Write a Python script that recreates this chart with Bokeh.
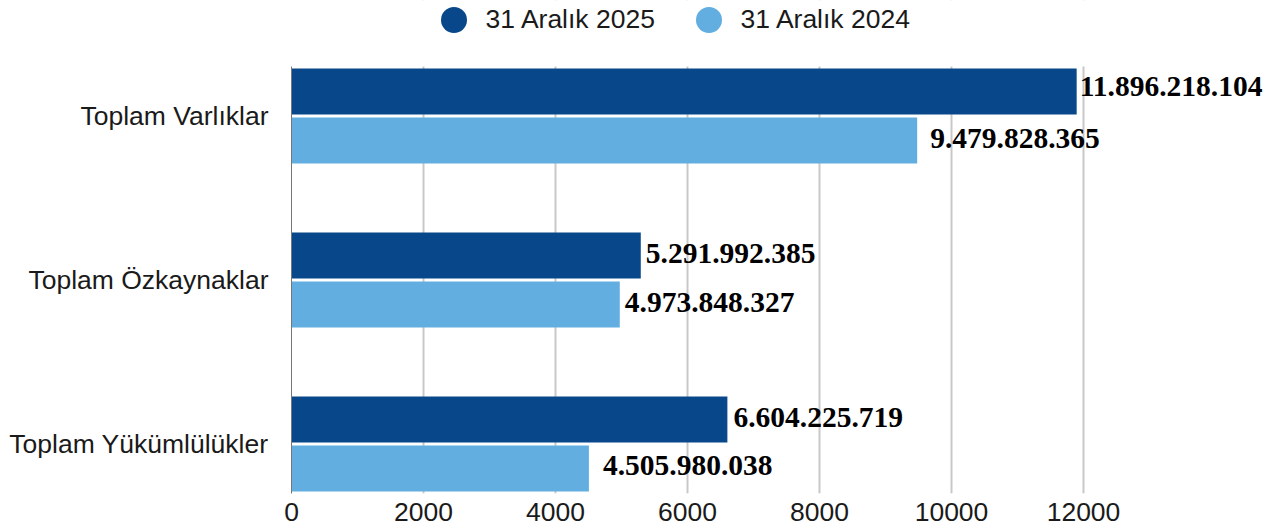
from bokeh.plotting import figure
from bokeh.models import (ColumnDataSource, Range1d, FixedTicker, Legend,
                          LegendItem, BoxAnnotation)
from bokeh.embed import file_html
from bokeh.resources import INLINE
from bokeh.core.properties import value

# ---------------- data ----------------
categories = ["Toplam Varlıklar", "Toplam Özkaynaklar", "Toplam Yükümlülükler"]
series_names = ["31 Aralık 2025", "31 Aralık 2024"]
values_2025 = [11896218104, 5291992385, 6604225719]
values_2024 = [9479828365, 4973848327, 4505980038]
x_ticks = [0, 2000, 4000, 6000, 8000, 10000, 12000]
scale = 1e6  # axis in millions

# ---------------- style ----------------
colors = ["#08488a", "#62aee1"]
bar_shift = [0.1494, -0.1494]
bar_height = 0.2805
label_dx = [[3, 5, 6], [13, 5, 14]]
label_dy = [[-5, -2, -2], [-2, -2, -3]]
text_col = "#1a1a1a"
sans = "Liberation Sans"
sans_size = "26.5px"

n = len(categories)
pos = [n - i - 0.5 for i in range(n)]
y_lo, y_top_plot, y_hi = 0.198, 2.802, 3.2043

p = figure(width=1276, height=532, output_backend="svg", toolbar_location=None,
           x_range=Range1d(0, 14924), y_range=Range1d(y_lo, y_hi),
           min_border_left=291, min_border_right=0, min_border_top=0,
           min_border_bottom=39)
p.outline_line_color = None
p.background_fill_color = "white"
p.border_fill_color = "white"

# grid
p.ygrid.visible = False
p.xgrid.ticker = FixedTicker(ticks=x_ticks[1:])
p.xgrid.grid_line_color = "#c8c8c8"
p.xgrid.grid_line_width = 2

def fmt(v):
    return f"{v:,}".replace(",", ".")

sources = []
for s, vals in enumerate([values_2025, values_2024]):
    src = ColumnDataSource(dict(
        y=[pp + bar_shift[s] for pp in pos],
        right=[v / scale for v in vals],
        mid=[v / scale / 2 for v in vals],
        label=[fmt(v) for v in vals],
        dx=label_dx[s],
        dy=label_dy[s],
    ))
    sources.append(src)
    p.hbar(y="y", left=0, right="right", height=bar_height,
           fill_color=colors[s], line_color=None, source=src)
    p.text(x="right", y="y", text="label", x_offset="dx", y_offset="dy",
           text_font=value("Liberation Serif"), text_font_style="bold",
           text_font_size="29.5px", text_baseline="middle", text_align="left",
           text_color="black", source=src)

# cover grid above the plot region (legend area)
p.add_layout(BoxAnnotation(bottom=y_top_plot, fill_color="white", fill_alpha=1,
                           line_color=None))

# x axis
xa = p.xaxis[0]
xa.ticker = FixedTicker(ticks=x_ticks)
xa.axis_line_color = None
xa.major_tick_line_color = None
xa.minor_tick_line_color = None
xa.major_tick_out = 0
xa.minor_tick_out = 0
xa.major_label_standoff = 9
xa.major_label_text_font = sans
xa.major_label_text_font_size = sans_size
xa.major_label_text_color = text_col

# y axis
ya = p.yaxis[0]
ya.ticker = FixedTicker(ticks=pos)
overrides = {}
for pp, c in zip(pos, categories):
    overrides[pp] = c
    overrides[str(pp)] = c
ya.major_label_overrides = overrides
ya.bounds = (y_lo, y_top_plot)
ya.axis_line_color = "#777777"
ya.axis_line_width = 1
ya.major_tick_line_color = None
ya.minor_tick_line_color = None
ya.major_tick_out = 0
ya.minor_tick_out = 0
ya.major_label_standoff = 23
ya.major_label_text_font = sans
ya.major_label_text_font_size = sans_size
ya.major_label_text_color = text_col

# legend: circle markers hidden beneath their own (same-coloured) bars
items = []
for name, c, src in zip(series_names, colors, sources):
    r = p.scatter(x="mid", y="y", marker="circle", size=26, fill_color=c,
                  line_color=None, source=src, level="underlay")
    items.append(LegendItem(label=name, renderers=[r]))
legend = Legend(items=items, orientation="horizontal", location=(129.5, 441.5),
                glyph_width=65, glyph_height=65, label_standoff=0, spacing=20,
                padding=0, margin=0, border_line_color=None,
                background_fill_alpha=0, label_text_font=sans,
                label_text_font_size=sans_size, label_text_color=text_col,
                label_width=170)
p.add_layout(legend, "center")

open("out.html", "w").write(file_html(p, INLINE))
